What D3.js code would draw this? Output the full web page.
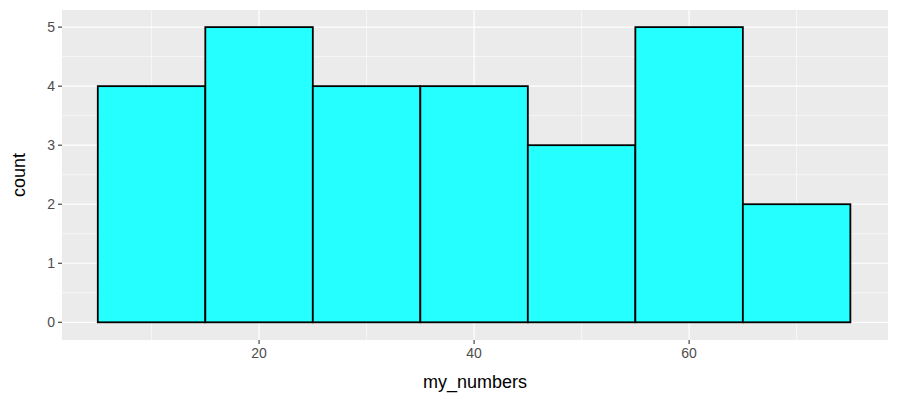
<!DOCTYPE html>
<html><head><meta charset="utf-8">
<script src="https://cdn.jsdelivr.net/npm/d3@7"></script>
<style>body{margin:0;background:#fff}</style></head>
<body><svg id="c" width="900" height="403"></svg>
<script>
const binStarts = [5,15,25,35,45,55,65];
const binWidth = 10;
const counts = [4,5,4,4,3,5,2];
const xTicks = [20,40,60];
const xMinor = [10,30,50,70];
const yTicks = [0,1,2,3,4,5];
const yMinor = [0.5,1.5,2.5,3.5,4.5];

const svg = d3.select("#c");
const L=62,R=888,T=10,B=340;
const x = d3.scaleLinear().domain([1.67,78.5]).range([L,R]);
const y = d3.scaleLinear().domain([-0.3,5.29]).range([B,T]);
svg.append("rect").attr("x",L).attr("y",T).attr("width",R-L).attr("height",B-T).attr("fill","#ebebeb");
const g = svg.append("g");
xMinor.forEach(v=>g.append("line").attr("x1",x(v)).attr("x2",x(v)).attr("y1",T).attr("y2",B).attr("stroke","#fff").attr("stroke-width",0.6));
yMinor.forEach(v=>g.append("line").attr("y1",y(v)).attr("y2",y(v)).attr("x1",L).attr("x2",R).attr("stroke","#fff").attr("stroke-width",0.6));
xTicks.forEach(v=>g.append("line").attr("x1",x(v)).attr("x2",x(v)).attr("y1",T).attr("y2",B).attr("stroke","#fff").attr("stroke-width",1.2));
yTicks.forEach(v=>g.append("line").attr("y1",y(v)).attr("y2",y(v)).attr("x1",L).attr("x2",R).attr("stroke","#fff").attr("stroke-width",1.2));
svg.selectAll(".bar").data(counts).enter().append("rect")
 .attr("x",(d,i)=>x(binStarts[i])).attr("width",(d,i)=>x(binStarts[i]+binWidth)-x(binStarts[i]))
 .attr("y",d=>y(d)).attr("height",d=>y(0)-y(d))
 .attr("fill","#25ffff").attr("stroke","#000").attr("stroke-width",1.8);
const f="Liberation Sans, Arial, sans-serif";
xTicks.forEach(v=>{
 svg.append("line").attr("x1",x(v)).attr("x2",x(v)).attr("y1",B).attr("y2",B+4).attr("stroke","#333").attr("stroke-width",1.1);
 svg.append("text").attr("x",x(v)).attr("y",B+18).attr("text-anchor","middle").attr("font-family",f).attr("font-size",14).attr("fill","#4d4d4d").text(v);
});
yTicks.forEach(v=>{
 svg.append("line").attr("x1",L-4).attr("x2",L).attr("y1",y(v)).attr("y2",y(v)).attr("stroke","#333").attr("stroke-width",1.1);
 svg.append("text").attr("x",L-7).attr("y",y(v)+5).attr("text-anchor","end").attr("font-family",f).attr("font-size",14).attr("fill","#4d4d4d").text(v);
});
svg.append("text").attr("x",(L+R)/2).attr("y",388).attr("text-anchor","middle").attr("font-family",f).attr("font-size",18).text("my_numbers");
svg.append("text").attr("transform",`translate(25,${(T+B)/2}) rotate(-90)`).attr("text-anchor","middle").attr("font-family",f).attr("font-size",18).text("count");
</script></body></html>
